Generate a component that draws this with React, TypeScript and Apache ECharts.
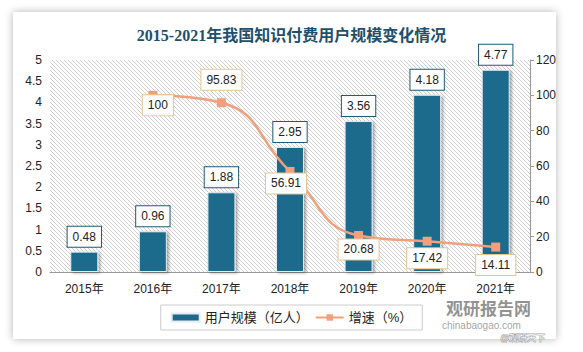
import React, { useEffect, useRef } from "react";
import * as echarts from "echarts";

const categories = ["2015年", "2016年", "2017年", "2018年", "2019年", "2020年", "2021年"];
const userScale = [0.48, 0.96, 1.88, 2.95, 3.56, 4.18, 4.77];
const growthRate: (number | string)[] = ["-", 100, 95.83, 56.91, 20.68, 17.42, 14.11];
const growthLabelOffsets: [number, number][] = [
  [0, 0],
  [5, 10],
  [0, -23],
  [-4, 12],
  [0, 14],
  [0, 17],
  [0, 18],
];

const FONT = "'Liberation Sans', 'Noto Sans CJK SC', sans-serif";

function makeHatch(): HTMLCanvasElement {
  const c = document.createElement("canvas");
  c.width = 4;
  c.height = 4;
  const ctx = c.getContext("2d")!;
  ctx.fillStyle = "#ffffff";
  ctx.fillRect(0, 0, 4, 4);
  ctx.strokeStyle = "#cfcfcf";
  ctx.lineWidth = 1;
  ctx.beginPath();
  ctx.moveTo(0, 0);
  ctx.lineTo(4, 4);
  ctx.moveTo(-1, 3);
  ctx.lineTo(1, 5);
  ctx.moveTo(3, -1);
  ctx.lineTo(5, 1);
  ctx.stroke();
  return c;
}

export default function App() {
  const ref = useRef<HTMLDivElement>(null);

  useEffect(() => {
    document.body.style.margin = "0";
    if (!ref.current) return;
    const chart = echarts.init(ref.current, null, { renderer: "svg" });
    const hatch = makeHatch();

    chart.setOption({
      animation: false,
      title: {
        text: "2015-2021年我国知识付费用户规模变化情况",
        left: "center",
        top: 22,
        textStyle: {
          fontFamily: "'Liberation Serif', 'Noto Sans CJK SC', serif",
          fontSize: 16,
          fontWeight: "bold",
          color: "#1f4f6c",
        },
      },
      grid: {
        left: 50,
        right: 53,
        top: 60,
        bottom: 80,
        show: true,
        borderWidth: 0,
        backgroundColor: { image: hatch, repeat: "repeat", imageWidth: 4, imageHeight: 4 },
      },
      legend: {
        top: 305,
        left: "center",
        padding: [6, 10],
        borderColor: "#cccccc",
        borderWidth: 1,
        itemGap: 6,
        itemWidth: 28,
        itemHeight: 8,
        textStyle: { fontSize: 13, color: "#222", fontFamily: FONT },
        data: [
          { name: "用户规模（亿人）", icon: "rect" },
          { name: "增速（%）" },
        ],
      },
      xAxis: {
        type: "category",
        data: categories,
        axisLine: { lineStyle: { color: "#999999", width: 1 } },
        axisTick: { show: false },
        axisLabel: { color: "#222", fontSize: 12, margin: 11, fontFamily: FONT },
      },
      yAxis: [
        {
          type: "value",
          min: 0,
          max: 5,
          interval: 0.5,
          axisLine: { show: false },
          axisTick: { show: false },
          splitLine: { show: false },
          axisLabel: { color: "#222", fontSize: 12, margin: 8, fontFamily: FONT },
        },
        {
          type: "value",
          min: 0,
          max: 120,
          interval: 20,
          position: "right",
          axisLine: { show: true, lineStyle: { color: "#999999" } },
          axisTick: { show: true, length: 4, lineStyle: { color: "#999999" } },
          splitLine: { show: false },
          axisLabel: { color: "#222", fontSize: 12, margin: 6, fontFamily: FONT },
        },
      ],
      series: [
        {
          name: "用户规模（亿人）",
          type: "bar",
          data: userScale,
          barWidth: 28,
          itemStyle: {
            color: "#1f6a8c",
            borderColor: "#e4ecf0",
            borderWidth: 1,
            shadowColor: "rgba(0,0,0,0.35)",
            shadowBlur: 3,
            shadowOffsetX: 2,
            shadowOffsetY: 1,
          },
          label: {
            show: true,
            position: "top",
            distance: 5,
            formatter: (p: any) => Number(p.value).toFixed(2),
            backgroundColor: "#ffffff",
            borderColor: "#1f5a78",
            borderWidth: 1,
            padding: [4, 5],
            lineHeight: 12,
            fontSize: 12,
            color: "#222",
            fontFamily: FONT,
          },
          z: 2,
        },
        {
          name: "增速（%）",
          type: "line",
          yAxisIndex: 1,
          smooth: true,
          symbol: "rect",
          symbolSize: 9,
          data: growthRate.map((v, i) => ({
            value: v,
            label: { offset: growthLabelOffsets[i] },
          })),
          lineStyle: { color: "#f0a07c", width: 2.5 },
          itemStyle: { color: "#f0a07c" },
          label: {
            show: true,
            position: "inside",
            backgroundColor: "#ffffff",
            borderColor: "#e5c690",
            borderWidth: 1,
            padding: [4, 5],
            lineHeight: 12,
            fontSize: 12,
            color: "#222",
            fontFamily: FONT,
          },
          z: 5,
        },
      ],
      graphic: [
        {
          type: "text",
          left: 446,
          top: 299,
          silent: true,
          z: 100,
          style: {
            text: "观研报告网",
            fontSize: 17,
            lineHeight: 17,
            fontWeight: "bold",
            fontFamily: "'Noto Sans CJK SC', sans-serif",
            fill: "rgba(110,110,110,0.75)",
          },
        },
        {
          type: "text",
          left: 442,
          top: 320,
          silent: true,
          z: 100,
          style: {
            text: "chinabaogao.com",
            fontSize: 10,
            lineHeight: 10,
            fontFamily: FONT,
            fill: "rgba(120,120,120,0.7)",
          },
        },
        {
          type: "text",
          left: 500,
          top: 332,
          silent: true,
          z: 100,
          style: {
            text: "@观研天下",
            fontSize: 9,
            lineHeight: 9,
            fontFamily: "'Noto Sans CJK SC', sans-serif",
            fill: "rgba(255,255,255,0.9)",
            stroke: "rgba(120,120,120,0.7)",
            lineWidth: 1,
          },
        },
      ],
    });

    return () => chart.dispose();
  }, []);

  return (
    <div style={{ position: "relative", width: 583, height: 352, background: "#ffffff", overflow: "hidden" }}>
      <div
        style={{
          position: "absolute",
          left: 13,
          top: 12,
          width: 543,
          height: 327,
          background: "#ffffff",
          boxShadow: "0 0 8px rgba(0,0,0,0.3)",
        }}
      />
      <div ref={ref} style={{ position: "absolute", left: 0, top: 0, width: 583, height: 352 }} />
    </div>
  );
}
